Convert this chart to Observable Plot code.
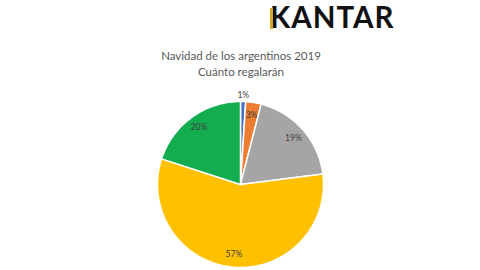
<!DOCTYPE html>
<html><head><meta charset="utf-8">
<script src="https://cdn.jsdelivr.net/npm/d3@7"></script>
<script src="https://cdn.jsdelivr.net/npm/@observablehq/plot@0.6"></script>
<style>
html,body{margin:0;padding:0;background:#fff;}
#wrap{position:relative;width:480px;height:270px;overflow:hidden;}
#logo{position:absolute;left:270px;top:-1px;font-family:Lato,sans-serif;font-weight:700;font-size:29.5px;letter-spacing:1px;color:#111;line-height:36px;}
#logo span.bar{display:inline-block;width:3px;height:21px;background:#d8a928;vertical-align:-1px;margin-right:-3px;position:relative;z-index:1;}
.t{position:absolute;left:0;width:482px;text-align:center;font-family:Lato,"Open Sans",sans-serif;font-size:11.5px;color:#595959;}
#chart{position:absolute;left:0;top:0;}
</style></head>
<body><div id="wrap">
<div id="chart"></div>
<div id="logo"><span class="bar"></span>KANTAR</div>
<div class="t" style="top:49px">Navidad de los argentinos 2019</div>
<div class="t" style="top:65px">Cuánto regalarán</div>
</div>
<script>
const categories = ["A", "B", "C", "D", "E"];
const values = [1, 3, 19, 57, 20];
const labels = ["1%", "3%", "19%", "57%", "20%"];
const colors = ["#4472C4", "#ED7D31", "#A5A5A5", "#FFC000", "#13AD4F"];

const total = d3.sum(values);
const pts = [];
const labs = [];
let acc = 0;
categories.forEach((c, i) => {
  const a0 = acc / total * 2 * Math.PI;
  acc += values[i];
  const a1 = acc / total * 2 * Math.PI;
  pts.push({cat: c, x: 0, y: 0});
  const n = Math.max(4, Math.ceil((a1 - a0) / 0.02));
  for (let k = 0; k <= n; k++) {
    const a = a0 + (a1 - a0) * k / n;
    pts.push({cat: c, x: Math.sin(a), y: Math.cos(a)});
  }
  pts.push({cat: c, x: 0, y: 0});
  const am = (a0 + a1) / 2;
  const r = values[i] < 2 ? 1.08 : 0.85;
  labs.push({label: labels[i], x: r * Math.sin(am), y: r * Math.cos(am)});
});

const R = 83, cx = 240, cy = 184;
const plot = Plot.plot({
  width: 480, height: 270,
  margin: 0,
  x: {domain: [-cx / R, (480 - cx) / R], range: [0, 480], axis: null},
  y: {domain: [-(270 - cy) / R, cy / R], range: [270, 0], axis: null},
  color: {domain: categories, range: colors},
  marks: [
    Plot.line(pts, {x: "x", y: "y", z: "cat", fill: "cat", stroke: "white", strokeWidth: 1.5, strokeLinejoin: "round", curve: "linear"}),
    Plot.text(labs, {x: "x", y: "y", text: "label", fill: "#404040", fontSize: 8.5, fontFamily: "Lato, sans-serif"})
  ],
  style: {background: "transparent"}
});
document.getElementById("chart").appendChild(plot);
</script>
</body></html>
